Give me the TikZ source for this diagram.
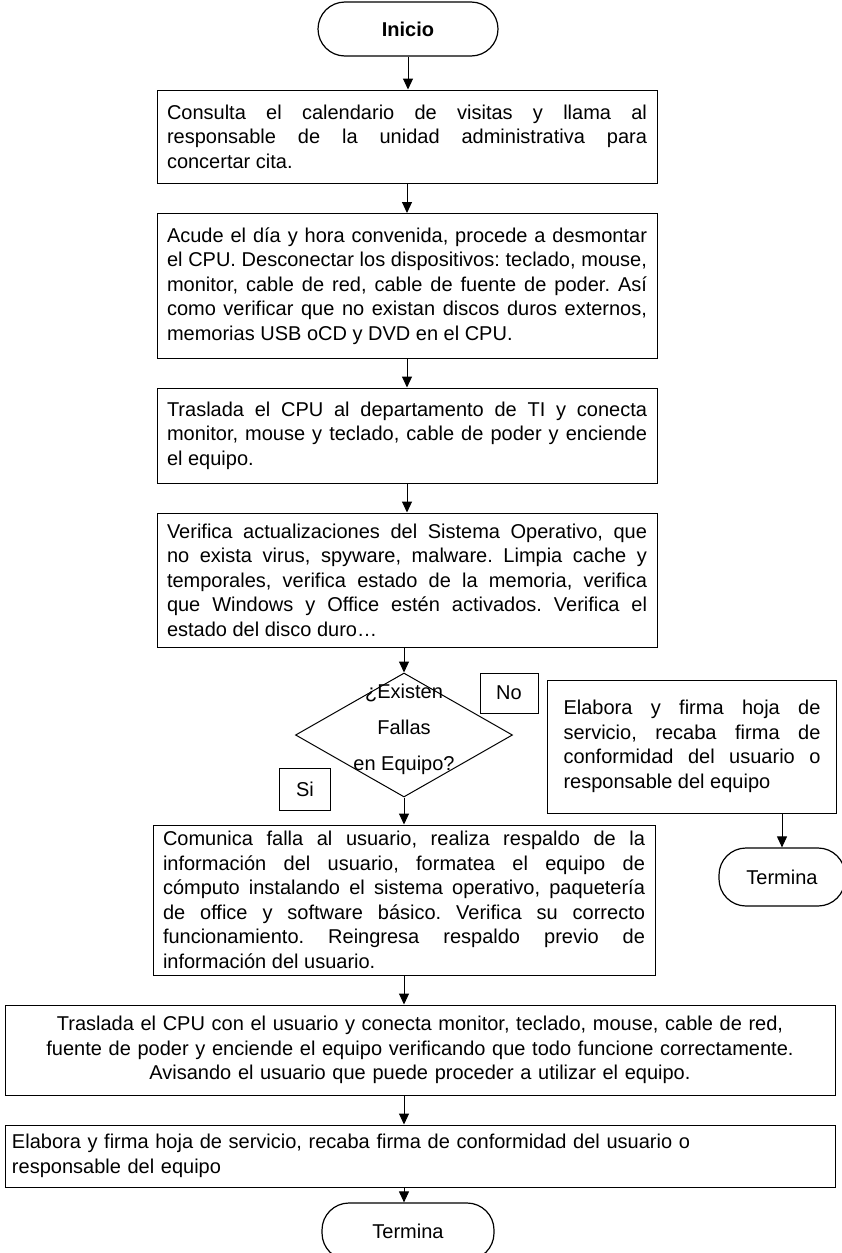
\documentclass[tikz,border=0pt]{standalone}
\usepackage{fontspec}
\setmainfont{Liberation Sans}
\usetikzlibrary{shapes.geometric,arrows.meta}
\frenchspacing

\begin{document}
\begin{tikzpicture}[x=1pt,y=-1pt,
    every node/.style={font=\fontsize{20}{24.5}\selectfont},
    term/.style={draw,line width=1.2pt,rounded corners=27pt},
    proc/.style={draw,line width=1pt,align=justify,inner ysep=0pt,
      execute at begin node={\frenchspacing\hyphenpenalty=10000\tolerance=9999}},
    tag/.style={draw,line width=1pt,inner sep=0pt},
    conn/.style={line width=1pt,-{Triangle[length=11pt,width=10pt]}}]

\useasboundingbox (0,0) rectangle (841,1253);

% main column
\node[term,minimum width=180pt,minimum height=54pt,font=\fontsize{20}{24}\selectfont\bfseries] (ini) at (408,29) {Inicio};
\node[proc,text width=480pt,inner xsep=10pt,minimum height=93pt] (consulta) at (407,136.5)
  {Consulta el calendario de visitas y llama al\linebreak
   responsable de la unidad administrativa para\linebreak
   concertar cita.};
\node[proc,text width=480pt,inner xsep=10pt,minimum height=145pt] (acude) at (407,286)
  {Acude el día y hora convenida, procede a desmontar\linebreak
   el CPU. Desconectar los dispositivos: teclado, mouse,\linebreak
   monitor, cable de red, cable de fuente de poder. Así\linebreak
   como verificar que no existan discos duros externos,\linebreak
   memorias USB oCD y DVD en el CPU.};
\node[proc,text width=480pt,inner xsep=10pt,minimum height=95pt] (traslada) at (407,435.5)
  {Traslada el CPU al departamento de TI y conecta\linebreak
   monitor, mouse y teclado, cable de poder y enciende\linebreak
   el equipo.};
\node[proc,text width=480pt,inner xsep=10pt,minimum height=134pt] (verifica) at (407,580)
  {Verifica actualizaciones del Sistema Operativo, que\linebreak
   no exista virus, spyware, malware. Limpia cache y\linebreak
   temporales, verifica estado de la memoria, verifica\linebreak
   que Windows y Office estén activados. Verifica el\linebreak
   estado del disco duro…};

% decision
\node[draw,diamond,line width=1pt,inner sep=0pt,minimum width=217pt,minimum height=124pt,
  label={[align=center,font=\fontsize{20}{36}\selectfont,yshift=6pt]center:{¿Existen\\Fallas\\en Equipo?}}] (dec) at (404,735) {};
\node[tag,minimum width=58pt,minimum height=40pt] (no) at (509,693) {No};
\node[tag,minimum width=51pt,minimum height=42pt] (si) at (305,789) {Si};

% branch No
\node[proc,text width=257pt,inner xsep=16pt,minimum height=133pt] (firmaA) at (692,746.5)
  {Elabora y firma hoja de\linebreak
   servicio, recaba firma de\linebreak
   conformidad del usuario o\linebreak
   responsable del equipo};
\node[term,minimum width=126pt,minimum height=58pt] (finA) at (782,877) {Termina};

% branch Si
\node[proc,text width=482pt,inner xsep=10pt,minimum height=150pt] (formatea) at (404,900)
  {Comunica falla al usuario, realiza respaldo de la\linebreak
   información del usuario, formatea el equipo de\linebreak
   cómputo instalando el sistema operativo, paquetería\linebreak
   de office y software básico. Verifica su correcto\linebreak
   funcionamiento. Reingresa respaldo previo de\linebreak
   información del usuario.};
\node[proc,align=center,text width=816pt,inner xsep=7pt,minimum height=90pt] (entrega) at (420,1050)
  {Traslada el CPU con el usuario y conecta monitor, teclado, mouse, cable de red,\\
   fuente de poder y enciende el equipo verificando que todo funcione correctamente.\\
   Avisando el usuario que puede proceder a utilizar el equipo.};
\node[proc,align=left,text width=816pt,inner xsep=7pt,minimum height=62pt] (firmaB) at (420,1156)
  {Elabora y firma hoja de servicio, recaba firma de conformidad del usuario o\\
   responsable del equipo};
\node[term,minimum width=172pt,minimum height=57pt] (finB) at (408,1231.5) {Termina};

% connectors
\draw[conn] (ini.south) -- (ini.south |- consulta.north);
\draw[conn] (consulta.south) -- (acude.north);
\draw[conn] (acude.south) -- (traslada.north);
\draw[conn] (traslada.south) -- (verifica.north);
\draw[conn] (dec.north |- verifica.south) -- (dec.north);
\draw[conn] (dec.south) -- (dec.south |- formatea.north);
\draw[conn] (formatea.south) -- (formatea.south |- entrega.north);
\draw[conn] (formatea.south |- entrega.south) -- (formatea.south |- firmaB.north);
\draw[conn] (formatea.south |- firmaB.south) -- (formatea.south |- finB.north);
\draw[conn] (finA.north |- firmaA.south) -- (finA.north);
\end{tikzpicture}
\end{document}
